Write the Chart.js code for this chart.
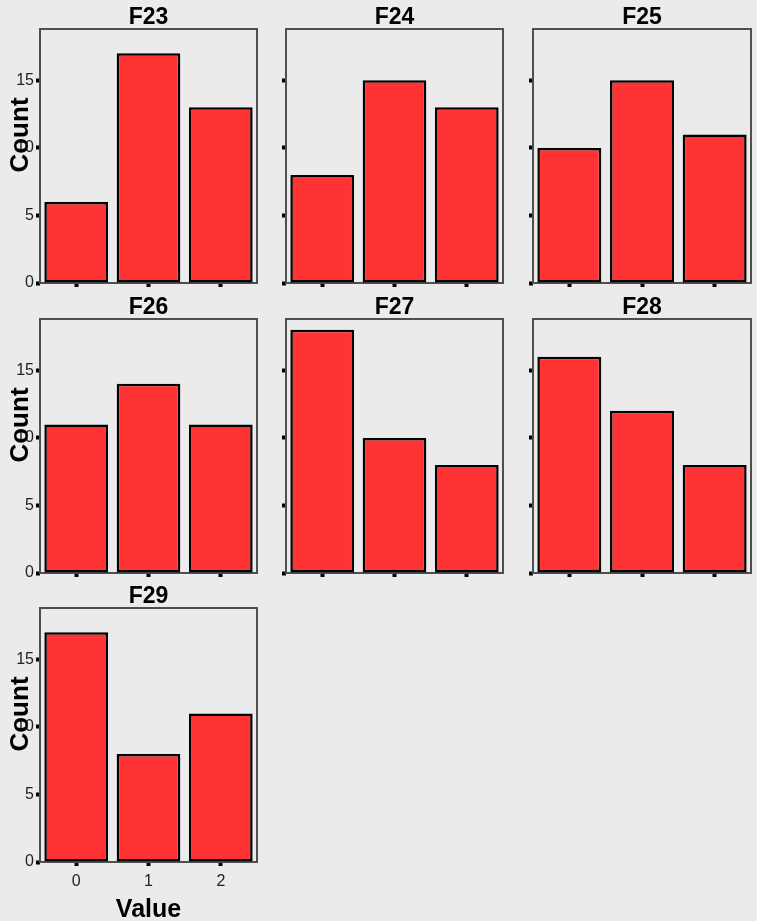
<!DOCTYPE html>
<html>
<head>
<meta charset="utf-8">
<script src="https://cdn.jsdelivr.net/npm/chart.js@4.4.1/dist/chart.umd.min.js"></script>
<style>
  html, body { margin: 0; padding: 0; background: #ebebeb; }
  #grid { position: relative; width: 757px; height: 921px; overflow: hidden; }
  #grid canvas { position: absolute; }
</style>
</head>
<body>
<div id="grid"></div>
<script>
// Item response counts per question (values 0, 1, 2)
const panelNames = ['F23', 'F24', 'F25', 'F26', 'F27', 'F28', 'F29'];
const valueLabels = ['0', '1', '2'];
const countTicks = [0, 5, 10, 15];

const f23Counts = [6, 17, 13];
const f24Counts = [8, 15, 13];
const f25Counts = [10, 15, 11];
const f26Counts = [11, 14, 11];
const f27Counts = [18, 10, 8];
const f28Counts = [16, 12, 8];
const f29Counts = [17, 8, 11];

const panelCounts = [f23Counts, f24Counts, f25Counts, f26Counts, f27Counts, f28Counts, f29Counts];

const FONT = "'Liberation Sans', Arial, Helvetica, sans-serif";
const COUNT_MAX = 18.8;
const PLOT_BOTTOM = 283; // bottom of the plot frame inside each canvas

// facet grid cells: 3 columns x 3 rows
const columns = [
  { left: 0,   width: 262, axisWidth: 40, padRight: 5 },
  { left: 262, width: 246, axisWidth: 24, padRight: 5 },
  { left: 508, width: 249, axisWidth: 25, padRight: 6 }
];
const rows = [
  { top: 0,   height: 290 },
  { top: 290, height: 290 },
  { top: 579, height: 342 }
];

// keep every panel's plot box the same size regardless of its labels
function noLabelPadding(scale) {
  scale.paddingTop = 0;
  scale.paddingBottom = 0;
  scale.paddingLeft = 0;
  scale.paddingRight = 0;
}

// grey frame around each panel
const panelFrame = {
  id: 'panelFrame',
  beforeDatasetsDraw(chart) {
    const { ctx, chartArea: a } = chart;
    ctx.save();
    ctx.strokeStyle = '#4f4f4f';
    ctx.lineWidth = 2;
    ctx.strokeRect(a.left, a.top, a.right - a.left, a.bottom - a.top);
    ctx.restore();
  }
};

// rotated "Count" axis title for the left column
const countTitle = {
  id: 'countTitle',
  afterDraw(chart, args, opts) {
    if (!opts.display) return;
    const { ctx, chartArea: a } = chart;
    ctx.save();
    ctx.translate(21, a.top + 106);
    ctx.rotate(-Math.PI / 2);
    ctx.font = 'bold 26px ' + FONT;
    ctx.fillStyle = '#000';
    ctx.textAlign = 'center';
    ctx.textBaseline = 'middle';
    ctx.fillText('Count', 0, 0);
    ctx.restore();
  }
};

const grid = document.getElementById('grid');

panelNames.forEach((name, i) => {
  const r = Math.floor(i / 3);
  const c = i % 3;
  const col = columns[c];
  const row = rows[r];
  const showCount = c === 0;
  const showValue = r === rows.length - 1;

  const canvas = document.createElement('canvas');
  canvas.width = col.width;
  canvas.height = row.height;
  canvas.style.left = col.left + 'px';
  canvas.style.top = row.top + 'px';
  canvas.style.width = col.width + 'px';
  canvas.style.height = row.height + 'px';
  grid.appendChild(canvas);

  new Chart(canvas, {
    type: 'bar',
    data: {
      labels: valueLabels,
      datasets: [{
        data: panelCounts[i],
        backgroundColor: '#ff3333',
        borderColor: '#000000',
        borderWidth: 2.5,
        borderSkipped: false,
        barPercentage: 0.88,
        categoryPercentage: 1
      }]
    },
    plugins: [panelFrame, countTitle],
    options: {
      responsive: false,
      animation: false,
      devicePixelRatio: 1,
      layout: { autoPadding: false, padding: { left: 0, right: col.padRight, top: 0, bottom: 0 } },
      events: [],
      plugins: {
        legend: { display: false },
        tooltip: { enabled: false },
        title: {
          display: true,
          text: name,
          fullSize: false,
          color: '#000',
          font: { family: FONT, size: 23, weight: 'bold', lineHeight: 1 },
          padding: { top: 6, bottom: 0 }
        },
        countTitle: { display: showCount }
      },
      scales: {
        x: {
          type: 'category',
          offset: true,
          grid: {
            offset: false,
            drawOnChartArea: false,
            drawTicks: true,
            tickLength: 4,
            tickWidth: 4,
            tickColor: '#000'
          },
          border: { display: false },
          ticks: {
            display: showValue,
            color: '#222',
            padding: 6,
            maxRotation: 0,
            font: { family: FONT, size: 16 }
          },
          title: {
            display: showValue && c === 0,
            text: 'Value',
            color: '#000',
            font: { family: FONT, size: 25, weight: 'bold', lineHeight: 1 },
            padding: { top: 0, bottom: -2 }
          },
          afterFit(scale) {
            scale.height = row.height - PLOT_BOTTOM;
            noLabelPadding(scale);
          }
        },
        y: {
          min: 0,
          max: COUNT_MAX,
          afterBuildTicks(scale) { scale.ticks = countTicks.map(v => ({ value: v })); },
          grid: {
            drawOnChartArea: false,
            drawTicks: true,
            tickLength: 4,
            tickWidth: 4,
            tickColor: '#000'
          },
          border: { display: false },
          ticks: {
            display: showCount,
            color: '#222',
            padding: 2,
            font: { family: FONT, size: 16 }
          },
          afterFit(scale) {
            scale.width = col.axisWidth;
            noLabelPadding(scale);
          }
        }
      }
    }
  });
});
</script>
</body>
</html>
